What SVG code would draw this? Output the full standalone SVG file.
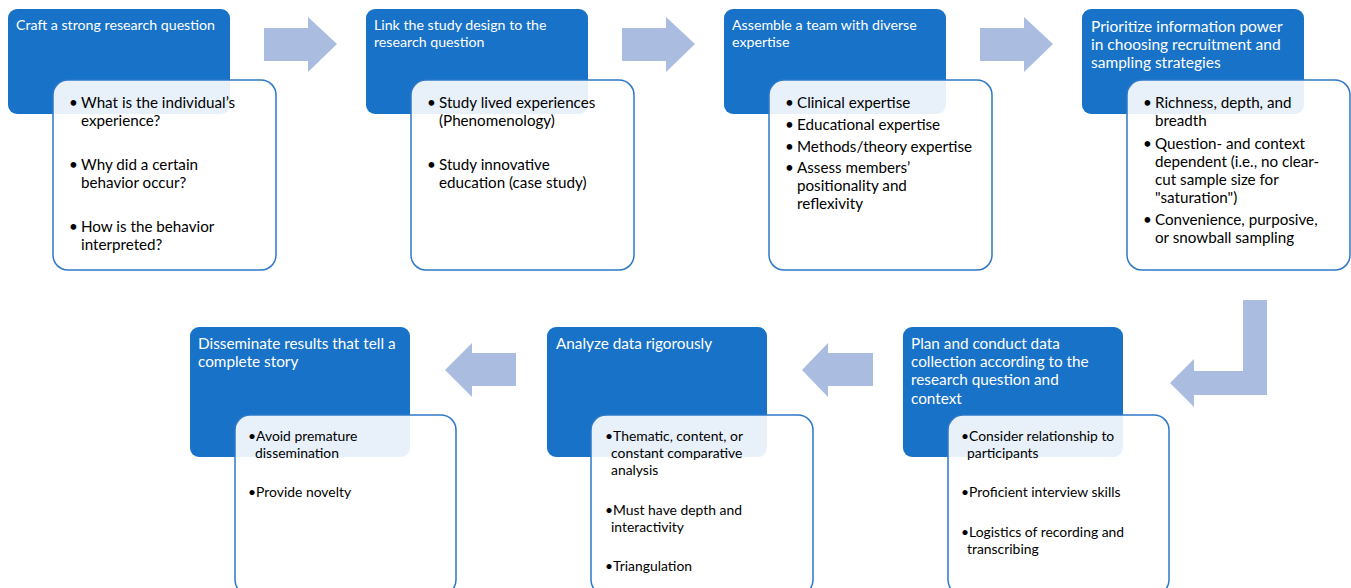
<svg xmlns="http://www.w3.org/2000/svg" width="1351" height="588" viewBox="0 0 1351 588">
<style>
.hd{fill:#1872C8;}
.bd{fill:#ffffff;fill-opacity:0.9;stroke:#2E78C8;stroke-width:1.5;}
.ar{fill:#AABDE0;}
.t{font-family:Lato,"Open Sans",sans-serif;fill:#ffffff;font-size:14.2px;}
.t4{font-family:Lato,"Open Sans",sans-serif;fill:#ffffff;font-size:15.5px;}
.tb{font-family:Lato,"Open Sans",sans-serif;fill:#ffffff;font-size:15.3px;}
.b{font-family:Lato,"Open Sans",sans-serif;fill:#000000;font-size:15.2px;}
.s{font-family:Lato,"Open Sans",sans-serif;fill:#000000;font-size:13.9px;}
</style>
<rect width="1351" height="588" fill="#ffffff"/>
<g id="connectors">
<polygon class="ar" points="264,28 308,28 308,17 337,44 308,72 308,61 264,61"/>
<polygon class="ar" points="622,28 666,28 666,17 695,44 666,72 666,61 622,61"/>
<polygon class="ar" points="980,28 1024,28 1024,17 1053,44 1024,72 1024,61 980,61"/>
<polygon class="ar" points="1243,300 1267,300 1267,395 1194,395 1194,407 1170,383 1194,359 1194,371 1243,371"/>
<polygon class="ar" points="873,353 828,353 828,343 802,370 828,397 828,386 873,386"/>
<polygon class="ar" points="516,353 472,353 472,343 445,370 472,397 472,386 516,386"/>
</g>
<g id="node1">
<rect class="hd" x="8" y="9" width="222" height="105" rx="9"/>
<rect class="bd" x="53" y="80" width="223" height="190" rx="15"/>
<text class="t" x="16" y="30">Craft a strong research question</text>
<text class="b" x="69" y="108">•</text>
<text class="b" x="81" y="108">What is the individual’s</text>
<text class="b" x="81" y="126">experience?</text>
<text class="b" x="69" y="170">•</text>
<text class="b" x="81" y="170">Why did a certain</text>
<text class="b" x="81" y="188">behavior occur?</text>
<text class="b" x="69" y="232">•</text>
<text class="b" x="81" y="232">How is the behavior</text>
<text class="b" x="81" y="250">interpreted?</text>
</g>
<g id="node2">
<rect class="hd" x="366" y="9" width="222" height="105" rx="9"/>
<rect class="bd" x="411" y="80" width="223" height="190" rx="15"/>
<text class="t" x="374" y="30">Link the study design to the</text>
<text class="t" x="374" y="47">research question</text>
<text class="b" x="427" y="108">•</text>
<text class="b" x="439" y="108">Study lived experiences</text>
<text class="b" x="439" y="126">(Phenomenology)</text>
<text class="b" x="427" y="170">•</text>
<text class="b" x="439" y="170">Study innovative</text>
<text class="b" x="439" y="188">education (case study)</text>
</g>
<g id="node3">
<rect class="hd" x="724" y="9" width="222" height="105" rx="9"/>
<rect class="bd" x="769" y="80" width="223" height="190" rx="15"/>
<text class="t" x="732" y="30">Assemble a team with diverse</text>
<text class="t" x="732" y="47">expertise</text>
<text class="b" x="785" y="108">•</text>
<text class="b" x="797" y="108">Clinical expertise</text>
<text class="b" x="785" y="130">•</text>
<text class="b" x="797" y="130">Educational expertise</text>
<text class="b" x="785" y="152">•</text>
<text class="b" x="797" y="152">Methods/theory expertise</text>
<text class="b" x="785" y="173">•</text>
<text class="b" x="797" y="173">Assess members’</text>
<text class="b" x="797" y="191">positionality and</text>
<text class="b" x="797" y="209">reflexivity</text>
</g>
<g id="node4">
<rect class="hd" x="1082" y="9" width="222" height="105" rx="9"/>
<rect class="bd" x="1127" y="80" width="223" height="190" rx="15"/>
<text class="t4" x="1091" y="32">Prioritize information power</text>
<text class="t4" x="1091" y="50">in choosing recruitment and</text>
<text class="t4" x="1091" y="68">sampling strategies</text>
<text class="b" x="1143" y="108">•</text>
<text class="b" x="1155" y="108">Richness, depth, and</text>
<text class="b" x="1155" y="126">breadth</text>
<text class="b" x="1143" y="149">•</text>
<text class="b" x="1155" y="149">Question- and context</text>
<text class="b" x="1155" y="167">dependent (i.e., no clear-</text>
<text class="b" x="1155" y="185">cut sample size for</text>
<text class="b" x="1155" y="203">"saturation")</text>
<text class="b" x="1143" y="225">•</text>
<text class="b" x="1155" y="225">Convenience, purposive,</text>
<text class="b" x="1155" y="243">or snowball sampling</text>
</g>
<g id="node5">
<rect class="hd" x="190" y="327" width="220" height="130" rx="9"/>
<rect class="bd" x="235" y="415" width="221" height="180" rx="15"/>
<text class="tb" x="198" y="349">Disseminate results that tell a</text>
<text class="tb" x="198" y="367">complete story</text>
<text class="s" x="248" y="441">•Avoid premature</text>
<text class="s" x="255" y="458">dissemination</text>
<text class="s" x="248" y="497">•Provide novelty</text>
</g>
<g id="node6">
<rect class="hd" x="547" y="327" width="220" height="130" rx="9"/>
<rect class="bd" x="591" y="415" width="222" height="180" rx="15"/>
<text class="tb" x="556" y="349">Analyze data rigorously</text>
<text class="s" x="605" y="441">•Thematic, content, or</text>
<text class="s" x="611" y="458">constant comparative</text>
<text class="s" x="611" y="475">analysis</text>
<text class="s" x="605" y="515">•Must have depth and</text>
<text class="s" x="611" y="532">interactivity</text>
<text class="s" x="605" y="571">•Triangulation</text>
</g>
<g id="node7">
<rect class="hd" x="903" y="327" width="220" height="130" rx="9"/>
<rect class="bd" x="948" y="415" width="221" height="180" rx="15"/>
<text class="tb" x="911" y="349">Plan and conduct data</text>
<text class="tb" x="911" y="367">collection according to the</text>
<text class="tb" x="911" y="385">research question and</text>
<text class="tb" x="911" y="404">context</text>
<text class="s" x="961" y="441">•Consider relationship to</text>
<text class="s" x="967" y="458">participants</text>
<text class="s" x="961" y="497">•Proficient interview skills</text>
<text class="s" x="961" y="537">•Logistics of recording and</text>
<text class="s" x="967" y="554">transcribing</text>
</g>
</svg>
